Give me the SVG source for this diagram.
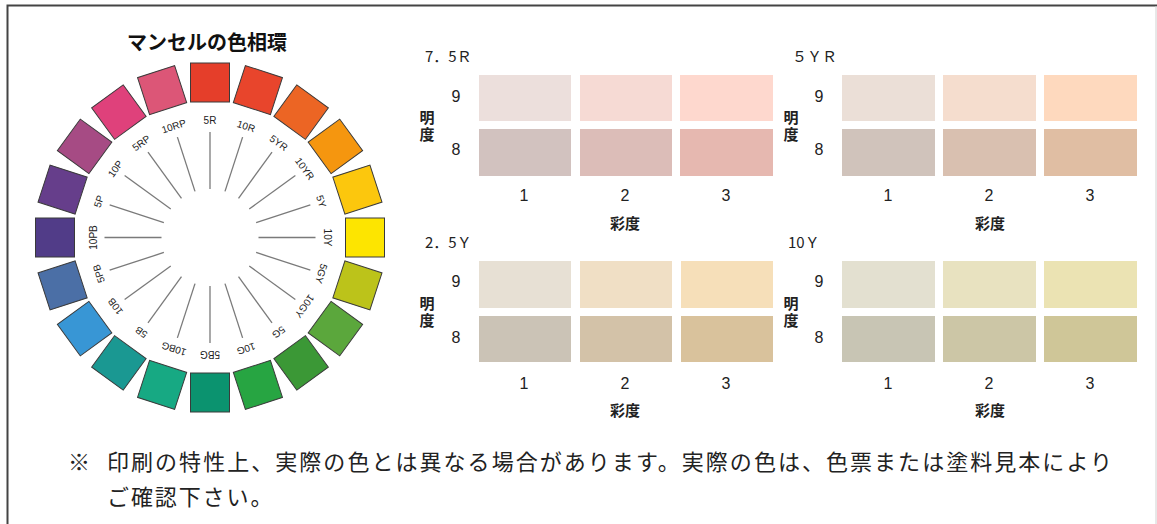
<svg xmlns="http://www.w3.org/2000/svg" width="1157" height="524" viewBox="0 0 1157 524">
<style>
.sq{stroke:#3a3a3a;stroke-width:1}
.spk{stroke:#7a7a7a;stroke-width:1.3}
.hl{font-family:"Liberation Sans",Arial,sans-serif;font-size:10px;fill:#222;text-anchor:middle}
.ttl{font-family:"Noto Sans CJK JP",sans-serif;font-size:20px;font-weight:bold;fill:#111;text-anchor:middle}
.hue{font-family:"Noto Sans CJK JP",sans-serif;font-size:15px;fill:#222}
.num{font-family:"Liberation Sans",Arial,sans-serif;font-size:16px;fill:#222;text-anchor:middle}
.jp{font-family:"Noto Sans CJK JP",sans-serif;font-size:15px;font-weight:bold;fill:#222;text-anchor:middle}
.vt{font-family:"Noto Sans CJK JP",sans-serif;font-size:15px;font-weight:bold;fill:#222;writing-mode:vertical-rl;letter-spacing:2px}
.note{font-family:"Liberation Serif","Noto Sans CJK JP",serif;font-size:22px;fill:#222}
</style>
<rect width="1157" height="524" fill="#ffffff"/>
<path d="M7.5,524 V5.5 H1157" fill="none" stroke="#444" stroke-width="2"/>
<line x1="1156" y1="6" x2="1156" y2="524" stroke="#d0d0d0" stroke-width="1"/>

<g id="wheel">
<text class="ttl" x="207" y="50">マンセルの色相環</text>
<g id="spokes">
<line class="spk" x1="210" y1="132" x2="210" y2="189" transform="rotate(0 210 237.5)"/>
<line class="spk" x1="210" y1="132" x2="210" y2="189" transform="rotate(18 210 237.5)"/>
<line class="spk" x1="210" y1="132" x2="210" y2="189" transform="rotate(36 210 237.5)"/>
<line class="spk" x1="210" y1="132" x2="210" y2="189" transform="rotate(54 210 237.5)"/>
<line class="spk" x1="210" y1="132" x2="210" y2="189" transform="rotate(72 210 237.5)"/>
<line class="spk" x1="210" y1="132" x2="210" y2="189" transform="rotate(90 210 237.5)"/>
<line class="spk" x1="210" y1="132" x2="210" y2="189" transform="rotate(108 210 237.5)"/>
<line class="spk" x1="210" y1="132" x2="210" y2="189" transform="rotate(126 210 237.5)"/>
<line class="spk" x1="210" y1="132" x2="210" y2="189" transform="rotate(144 210 237.5)"/>
<line class="spk" x1="210" y1="132" x2="210" y2="189" transform="rotate(162 210 237.5)"/>
<line class="spk" x1="210" y1="132" x2="210" y2="189" transform="rotate(180 210 237.5)"/>
<line class="spk" x1="210" y1="132" x2="210" y2="189" transform="rotate(198 210 237.5)"/>
<line class="spk" x1="210" y1="132" x2="210" y2="189" transform="rotate(216 210 237.5)"/>
<line class="spk" x1="210" y1="132" x2="210" y2="189" transform="rotate(234 210 237.5)"/>
<line class="spk" x1="210" y1="132" x2="210" y2="189" transform="rotate(252 210 237.5)"/>
<line class="spk" x1="210" y1="132" x2="210" y2="189" transform="rotate(270 210 237.5)"/>
<line class="spk" x1="210" y1="132" x2="210" y2="189" transform="rotate(288 210 237.5)"/>
<line class="spk" x1="210" y1="132" x2="210" y2="189" transform="rotate(306 210 237.5)"/>
<line class="spk" x1="210" y1="132" x2="210" y2="189" transform="rotate(324 210 237.5)"/>
<line class="spk" x1="210" y1="132" x2="210" y2="189" transform="rotate(342 210 237.5)"/>
</g>
<g id="h5R" transform="rotate(0 210 237.5)"><rect class="sq" x="190.5" y="63" width="39" height="39" fill="#e53e2a"/><text class="hl" x="210" y="124">5R</text></g>
<g id="h10R" transform="rotate(18 210 237.5)"><rect class="sq" x="190.5" y="63" width="39" height="39" fill="#e8452c"/><text class="hl" x="210" y="124">10R</text></g>
<g id="h5YR" transform="rotate(36 210 237.5)"><rect class="sq" x="190.5" y="63" width="39" height="39" fill="#ec6524"/><text class="hl" x="210" y="124">5YR</text></g>
<g id="h10YR" transform="rotate(54 210 237.5)"><rect class="sq" x="190.5" y="63" width="39" height="39" fill="#f5960f"/><text class="hl" x="210" y="124">10YR</text></g>
<g id="h5Y" transform="rotate(72 210 237.5)"><rect class="sq" x="190.5" y="63" width="39" height="39" fill="#fcc70d"/><text class="hl" x="210" y="124">5Y</text></g>
<g id="h10Y" transform="rotate(90 210 237.5)"><rect class="sq" x="190.5" y="63" width="39" height="39" fill="#fde500"/><text class="hl" x="210" y="124">10Y</text></g>
<g id="h5GY" transform="rotate(108 210 237.5)"><rect class="sq" x="190.5" y="63" width="39" height="39" fill="#bcc31a"/><text class="hl" x="210" y="124">5GY</text></g>
<g id="h10GY" transform="rotate(126 210 237.5)"><rect class="sq" x="190.5" y="63" width="39" height="39" fill="#5ba73c"/><text class="hl" x="210" y="124">10GY</text></g>
<g id="h5G" transform="rotate(144 210 237.5)"><rect class="sq" x="190.5" y="63" width="39" height="39" fill="#3b9836"/><text class="hl" x="210" y="124">5G</text></g>
<g id="h10G" transform="rotate(162 210 237.5)"><rect class="sq" x="190.5" y="63" width="39" height="39" fill="#27a542"/><text class="hl" x="210" y="124">10G</text></g>
<g id="h5BG" transform="rotate(180 210 237.5)"><rect class="sq" x="190.5" y="63" width="39" height="39" fill="#0b936f"/><text class="hl" x="210" y="124">5BG</text></g>
<g id="h10BG" transform="rotate(198 210 237.5)"><rect class="sq" x="190.5" y="63" width="39" height="39" fill="#17a983"/><text class="hl" x="210" y="124">10BG</text></g>
<g id="h5B" transform="rotate(216 210 237.5)"><rect class="sq" x="190.5" y="63" width="39" height="39" fill="#1a9892"/><text class="hl" x="210" y="124">5B</text></g>
<g id="h10B" transform="rotate(234 210 237.5)"><rect class="sq" x="190.5" y="63" width="39" height="39" fill="#3896d5"/><text class="hl" x="210" y="124">10B</text></g>
<g id="h5PB" transform="rotate(252 210 237.5)"><rect class="sq" x="190.5" y="63" width="39" height="39" fill="#4b6fa6"/><text class="hl" x="210" y="124">5PB</text></g>
<g id="h10PB" transform="rotate(270 210 237.5)"><rect class="sq" x="190.5" y="63" width="39" height="39" fill="#513c88"/><text class="hl" x="210" y="124">10PB</text></g>
<g id="h5P" transform="rotate(288 210 237.5)"><rect class="sq" x="190.5" y="63" width="39" height="39" fill="#663e8b"/><text class="hl" x="210" y="124">5P</text></g>
<g id="h10P" transform="rotate(306 210 237.5)"><rect class="sq" x="190.5" y="63" width="39" height="39" fill="#a64b84"/><text class="hl" x="210" y="124">10P</text></g>
<g id="h5RP" transform="rotate(324 210 237.5)"><rect class="sq" x="190.5" y="63" width="39" height="39" fill="#df417b"/><text class="hl" x="210" y="124">5RP</text></g>
<g id="h10RP" transform="rotate(342 210 237.5)"><rect class="sq" x="190.5" y="63" width="39" height="39" fill="#dc5677"/><text class="hl" x="210" y="124">10RP</text></g>
</g>

<g id="panel-7-5R">
<text class="hue" x="425" y="62">7．5Ｒ</text>
<rect x="479" y="75" width="92" height="46" fill="#ecdfdc"/>
<rect x="580" y="75" width="92" height="46" fill="#f6dad4"/>
<rect x="680" y="75" width="93" height="46" fill="#fed8ce"/>
<rect x="479" y="129" width="92" height="47" fill="#d2c2bf"/>
<rect x="580" y="129" width="92" height="47" fill="#dcbdb8"/>
<rect x="680" y="129" width="93" height="47" fill="#e6b8b0"/>
<text class="num" x="456" y="102">9</text>
<text class="num" x="456" y="155">8</text>
<text class="vt" x="427" y="110">明度</text>
<text class="num" x="524" y="201">1</text>
<text class="num" x="625" y="201">2</text>
<text class="num" x="726" y="201">3</text>
<text class="jp" x="625" y="229">彩度</text>
</g>

<g id="panel-5YR">
<text class="hue" x="792" y="62">５ＹＲ</text>
<rect x="842" y="75" width="93" height="46" fill="#ebdfd7"/>
<rect x="943" y="75" width="93" height="46" fill="#f5ddce"/>
<rect x="1044" y="75" width="93" height="46" fill="#fed9be"/>
<rect x="842" y="129" width="93" height="47" fill="#d0c3bb"/>
<rect x="943" y="129" width="93" height="47" fill="#d9c0b0"/>
<rect x="1044" y="129" width="93" height="47" fill="#e0bea3"/>
<text class="num" x="819" y="102">9</text>
<text class="num" x="819" y="155">8</text>
<text class="vt" x="791" y="110">明度</text>
<text class="num" x="888" y="201">1</text>
<text class="num" x="989" y="201">2</text>
<text class="num" x="1090" y="201">3</text>
<text class="jp" x="990" y="229">彩度</text>
</g>

<g id="panel-2-5Y">
<text class="hue" x="425" y="248">2．5Ｙ</text>
<rect x="479" y="261" width="92" height="47" fill="#e7e0d4"/>
<rect x="580" y="261" width="92" height="47" fill="#f0dfc5"/>
<rect x="681" y="261" width="92" height="47" fill="#f6dfb9"/>
<rect x="479" y="316" width="92" height="46" fill="#cbc3b6"/>
<rect x="580" y="316" width="92" height="46" fill="#d3c2a8"/>
<rect x="681" y="316" width="92" height="46" fill="#d9c29c"/>
<text class="num" x="456" y="287">9</text>
<text class="num" x="456" y="343">8</text>
<text class="vt" x="427" y="296">明度</text>
<text class="num" x="524" y="389">1</text>
<text class="num" x="625" y="389">2</text>
<text class="num" x="726" y="389">3</text>
<text class="jp" x="625" y="416">彩度</text>
</g>

<g id="panel-10Y">
<text class="hue" x="788" y="248">10Ｙ</text>
<rect x="842" y="261" width="93" height="47" fill="#e3e0d0"/>
<rect x="943" y="261" width="93" height="47" fill="#e8e2c0"/>
<rect x="1044" y="261" width="93" height="47" fill="#ebe3b3"/>
<rect x="842" y="316" width="93" height="46" fill="#c8c5b4"/>
<rect x="943" y="316" width="93" height="46" fill="#ccc6a6"/>
<rect x="1044" y="316" width="93" height="46" fill="#cfc698"/>
<text class="num" x="819" y="287">9</text>
<text class="num" x="819" y="343">8</text>
<text class="vt" x="791" y="296">明度</text>
<text class="num" x="888" y="389">1</text>
<text class="num" x="989" y="389">2</text>
<text class="num" x="1090" y="389">3</text>
<text class="jp" x="990" y="416">彩度</text>
</g>

<g id="note">
<text class="note" x="68" y="470">※</text>
<text class="note" x="107" y="470" textLength="1005" lengthAdjust="spacing">印刷の特性上、実際の色とは異なる場合があります。実際の色は、色票または塗料見本により</text>
<text class="note" x="107" y="505" letter-spacing="1.9">ご確認下さい。</text>
</g>
</svg>
